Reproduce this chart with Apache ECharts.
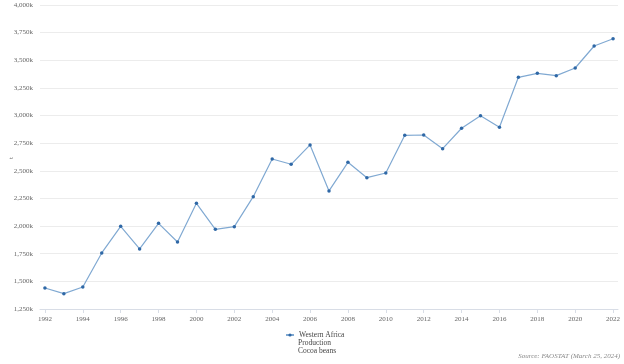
<!DOCTYPE html>
<html><head><meta charset="utf-8">
<script src="https://cdn.jsdelivr.net/npm/echarts@6/dist/echarts.min.js"></script>
<style>html,body{margin:0;padding:0;background:#fff}#c{width:624px;height:364px}</style>
</head><body><div id="c"></div>
<script>
const years = [1992,1993,1994,1995,1996,1997,1998,1999,2000,2001,2002,2003,2004,2005,2006,2007,2008,2009,2010,2011,2012,2013,2014,2015,2016,2017,2018,2019,2020,2021,2022];
const production = [1440,1389,1449,1757,1998,1793,2025,1856,2206,1971,1995,2266,2607,2559,2734,2318,2577,2438,2480,2821,2824,2700,2885,2999,2894,3346,3382,3361,3430,3629,3695];
const xTicks = [1992,1994,1996,1998,2000,2002,2004,2006,2008,2010,2012,2014,2016,2018,2020,2022];
const seriesName = 'Western Africa\nProduction\nCocoa beans';
const sourceText = 'Source: FAOSTAT (March 25, 2024)';
const unitName = 't';

const chart = echarts.init(document.getElementById('c'), null, {renderer:'canvas'});
const font = 'Liberation Serif';
const nameLines = seriesName.split('\n');
chart.setOption({
  animation:false,
  textStyle:{fontFamily:font},
  grid:{left:40,right:6,top:5,bottom:55,containLabel:false,outerBoundsMode:'none'},
  xAxis:{type:'value',min:1991.74,max:2022.26,
    axisLine:{show:true,lineStyle:{color:'#d8dde6',width:1}},
    axisTick:{show:true,customValues:xTicks,length:4,lineStyle:{color:'#d8dde6'}},
    axisLabel:{customValues:xTicks,color:'#666',fontSize:7,fontFamily:font,margin:7,formatter:v=>String(v)},
    splitLine:{show:false}},
  yAxis:{type:'value',min:1250,max:4000,interval:250,
    axisLine:{show:false},axisTick:{show:false},
    axisLabel:{color:'#666',fontSize:7,fontFamily:font,margin:7,formatter:v=>v.toLocaleString('en-US')+'k'},
    splitLine:{lineStyle:{color:'#ececec',width:1}}},
  legend:{show:true,left:285,top:331,padding:0,orient:'vertical',itemWidth:8,itemHeight:4,itemGap:4,
    textStyle:{color:'#444',fontSize:7.5,fontFamily:font},
    formatter:()=>nameLines[0],
    data:[{name:seriesName}]},
  graphic:[
    {type:'text',x:8,y:159,rotation:Math.PI/2,style:{text:unitName,fill:'#666',font:'7px "Liberation Serif"'}},
    {type:'text',left:298,top:339.5,style:{text:nameLines.slice(1).join('\n'),fill:'#444',font:'7.5px "Liberation Serif"',lineHeight:7.5}},
    {type:'text',right:4,top:353,style:{text:sourceText,fill:'#888',font:'italic 7px "Liberation Serif"'}}],
  series:[{name:seriesName,type:'line',data:years.map((y,i)=>[y,production[i]]),
    symbol:'circle',symbolSize:3.5,
    lineStyle:{color:'#80a9d2',width:1.2},
    itemStyle:{color:'#2f68a6'}}]
});
</script></body></html>
